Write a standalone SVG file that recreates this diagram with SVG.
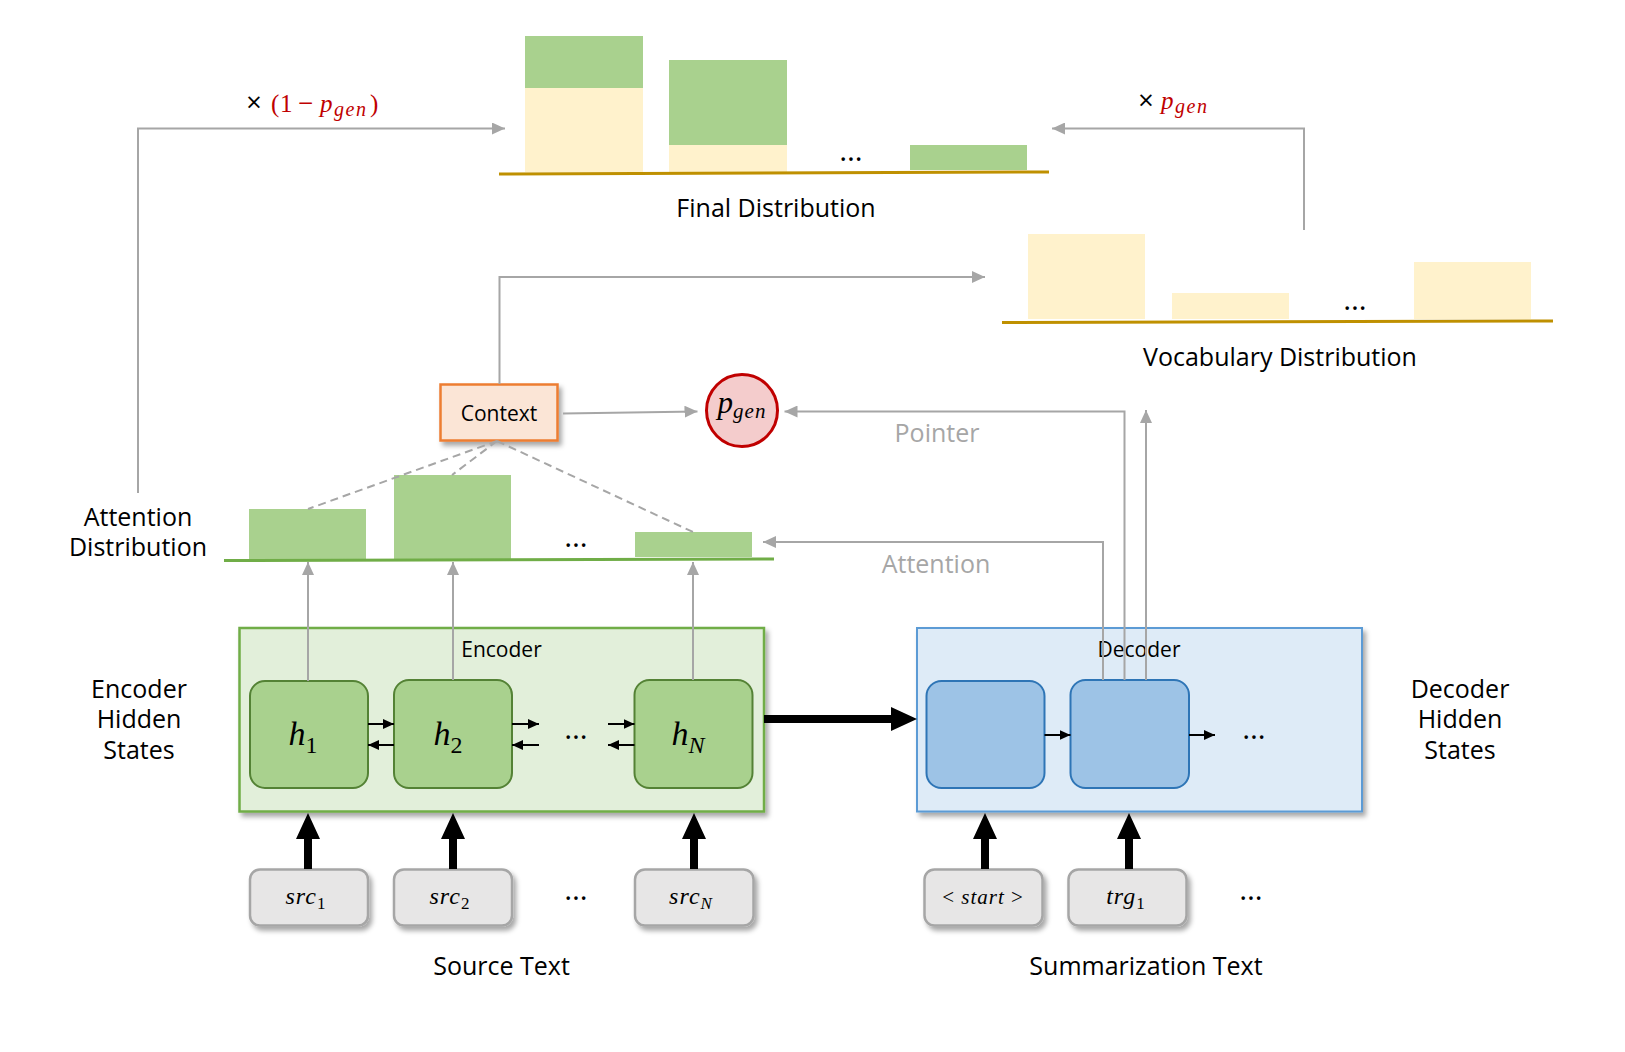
<svg xmlns="http://www.w3.org/2000/svg" width="1625" height="1052" viewBox="0 0 1625 1052">
<defs>
<style>
.lbl{font-family:"Open Sans","Noto Sans",sans-serif;font-size:25px;fill:#000;text-anchor:middle}
.sm{font-family:"Open Sans","Noto Sans",sans-serif;font-size:21px;fill:#000;text-anchor:middle}
.gl{font-family:"Open Sans","Noto Sans",sans-serif;font-size:25px;fill:#A6A6A6;text-anchor:middle}
.math{font-family:"Liberation Serif","DejaVu Serif",serif;font-style:italic;fill:#000;text-anchor:middle}
.red{font-family:"Liberation Serif","DejaVu Serif",serif;fill:#C00000}
.dots{font-family:"Open Sans","Noto Sans",sans-serif;font-size:30px;fill:#000;text-anchor:middle}
.g{fill:#A9D18E}
.y{fill:#FFF2CC}
.gc{stroke:#A6A6A6;stroke-width:2;fill:none}
.bk{stroke:#000;stroke-width:2;fill:none}
.cellg{fill:#A9D18E;stroke:#548235;stroke-width:2}
.cellb{fill:#9DC3E6;stroke:#2E75B6;stroke-width:2}
.inp{fill:#E7E6E6;stroke:#A6A6A6;stroke-width:2.5}
</style>
<filter id="sh" x="-20%" y="-20%" width="150%" height="160%">
<feDropShadow dx="3" dy="4" stdDeviation="2.5" flood-color="#000" flood-opacity="0.35"/>
</filter>
<marker id="ag" markerUnits="userSpaceOnUse" markerWidth="13" markerHeight="12" viewBox="0 0 13 12" refX="13" refY="6" orient="auto">
<path d="M0,0 L13,6 L0,12 z" fill="#A6A6A6"/>
</marker>
<marker id="ab" markerUnits="userSpaceOnUse" markerWidth="11" markerHeight="10" viewBox="0 0 11 10" refX="11" refY="5" orient="auto">
<path d="M0,0 L11,5 L0,10 z" fill="#000"/>
</marker>
</defs>
<rect width="1625" height="1052" fill="#fff"/>

<!-- Final distribution -->
<g id="final-distribution">
<rect class="y" x="525" y="88" width="118" height="84"/>
<rect class="g" x="525" y="36" width="118" height="52"/>
<rect class="y" x="669" y="145" width="118" height="27"/>
<rect class="g" x="669" y="60" width="118" height="85"/>
<rect class="g" x="910" y="145" width="117" height="25"/>
<text class="dots" x="851" y="161">…</text>
<line x1="499" y1="174" x2="1049" y2="172" stroke="#BF9000" stroke-width="3"/>
<text class="lbl" x="776" y="217">Final Distribution</text>
</g>

<!-- Vocabulary distribution -->
<g id="vocab-distribution">
<rect class="y" x="1028" y="234" width="117" height="85"/>
<rect class="y" x="1172" y="293" width="117" height="26"/>
<rect class="y" x="1414" y="262" width="117" height="57"/>
<text class="dots" x="1355" y="310">…</text>
<line x1="1002" y1="322.5" x2="1553" y2="321" stroke="#BF9000" stroke-width="3"/>
<text class="lbl" x="1280" y="366">Vocabulary Distribution</text>
</g>

<!-- Attention distribution -->
<g id="attention-distribution">
<rect class="g" x="249" y="509" width="117" height="51"/>
<rect class="g" x="394" y="475" width="117" height="85"/>
<rect class="g" x="635" y="532" width="117" height="25"/>
<text class="dots" x="576" y="547">…</text>
<line x1="224" y1="560.5" x2="774" y2="559" stroke="#70AD47" stroke-width="3"/>
<text class="lbl" x="138" y="526">Attention</text>
<text class="lbl" x="138" y="556">Distribution</text>
</g>

<!-- Multiplier labels -->
<g id="mult-labels">
<text font-family="Open Sans,sans-serif" font-size="27" x="254" y="112" text-anchor="middle">×</text>
<text class="red" y="112" font-size="25"><tspan x="271">(</tspan><tspan x="280">1</tspan><tspan x="298" font-size="27">−</tspan><tspan x="320" font-style="italic">p</tspan><tspan x="334" font-style="italic" font-size="20" dy="4" letter-spacing="1.5">gen</tspan><tspan x="370" dy="-4">)</tspan></text>
<text font-family="Open Sans,sans-serif" font-size="27" x="1146" y="110" text-anchor="middle">×</text>
<text class="red" y="109" font-size="25"><tspan x="1161" font-style="italic">p</tspan><tspan x="1175" font-style="italic" font-size="20" dy="4" letter-spacing="1.5">gen</tspan></text>
</g>

<!-- Context -->
<g id="context">
<rect x="440.5" y="384.5" width="117" height="56" fill="#FBE5D6" stroke="#ED7D31" stroke-width="2.5" filter="url(#sh)"/>
<text class="sm" x="499" y="421" font-size="22">Context</text>
</g>

<!-- p_gen -->
<g id="pgen">
<ellipse cx="742" cy="410.5" rx="35.5" ry="36" fill="#F4CCCC" stroke="#C00000" stroke-width="3"/>
<text class="math" x="742" y="413" font-size="31">p<tspan font-size="21" dy="5" letter-spacing="1">gen</tspan></text>
</g>

<!-- Labels -->
<g id="side-labels">
<text class="lbl" x="139" y="698">Encoder</text>
<text class="lbl" x="139" y="728">Hidden</text>
<text class="lbl" x="139" y="759">States</text>
<text class="lbl" x="1460" y="698">Decoder</text>
<text class="lbl" x="1460" y="728">Hidden</text>
<text class="lbl" x="1460" y="759">States</text>
<text class="gl" x="937" y="442">Pointer</text>
<text class="gl" x="936" y="573">Attention</text>
<text class="lbl" x="501.5" y="975">Source Text</text>
<text class="lbl" x="1146" y="975">Summarization Text</text>
</g>

<!-- Encoder -->
<g id="encoder">
<rect x="239.5" y="628" width="524.5" height="183.5" fill="#E2EFDA" stroke="#70AD47" stroke-width="2.5" filter="url(#sh)"/>
<text class="sm" x="501.5" y="657">Encoder</text>
</g>
<g id="h1">
<rect class="cellg" x="250" y="681" width="118" height="107" rx="15"/>
<text class="math" x="303" y="745" font-size="34">h<tspan font-style="normal" font-size="24" dy="8">1</tspan></text>
</g>
<g id="h2">
<rect class="cellg" x="394" y="680" width="118" height="108" rx="15"/>
<text class="math" x="448" y="745" font-size="34">h<tspan font-style="normal" font-size="24" dy="8">2</tspan></text>
</g>
<g id="hN">
<rect class="cellg" x="634.5" y="680" width="118" height="108" rx="15"/>
<text class="math" x="688" y="745" font-size="34">h<tspan font-size="24" dy="8">N</tspan></text>
</g>
<text class="dots" x="576" y="739">…</text>

<!-- Decoder -->
<g id="decoder">
<rect x="917" y="628" width="445" height="183.5" fill="#DEEBF7" stroke="#5B9BD5" stroke-width="2" filter="url(#sh)"/>
<text class="sm" x="1139" y="657">Decoder</text>
</g>
<g id="d1"><rect class="cellb" x="926.5" y="681" width="118" height="107" rx="15"/></g>
<g id="d2"><rect class="cellb" x="1070.5" y="680" width="118.5" height="108" rx="15"/></g>
<text class="dots" x="1254" y="739">…</text>

<!-- Inputs -->
<g id="src1"><rect class="inp" x="250" y="869.5" width="118" height="56" rx="10" filter="url(#sh)"/>
<text class="math" x="306" y="904" font-size="24" letter-spacing="1">src<tspan font-style="normal" font-size="17" dy="5">1</tspan></text></g>
<g id="src2"><rect class="inp" x="394" y="869.5" width="118" height="56" rx="10" filter="url(#sh)"/>
<text class="math" x="450" y="904" font-size="24" letter-spacing="1">src<tspan font-style="normal" font-size="17" dy="5">2</tspan></text></g>
<g id="srcN"><rect class="inp" x="635" y="869.5" width="118.5" height="56" rx="10" filter="url(#sh)"/>
<text class="math" x="691" y="904" font-size="24" letter-spacing="1">src<tspan font-size="17" dy="5">N</tspan></text></g>
<text class="dots" x="576" y="900">…</text>
<g id="start"><rect class="inp" x="924.5" y="869.5" width="118" height="56" rx="10" filter="url(#sh)"/>
<text class="math" x="983" y="904" font-size="21" letter-spacing="1"><tspan font-style="normal">&lt;</tspan> start <tspan font-style="normal">&gt;</tspan></text></g>
<g id="trg1"><rect class="inp" x="1068.5" y="869.5" width="118" height="56" rx="10" filter="url(#sh)"/>
<text class="math" x="1126" y="904" font-size="24" letter-spacing="1">trg<tspan font-style="normal" font-size="17" dy="5">1</tspan></text></g>
<text class="dots" x="1251" y="900">…</text>

<!-- Connectors -->
<g id="connectors">
<polyline class="gc" points="138,493 138,128.5 505,128.5" marker-end="url(#ag)"/>
<polyline class="gc" points="1304,230 1304,128.5 1052,128.5" marker-end="url(#ag)"/>
<polyline class="gc" points="499.5,384 499.5,277 985,277" marker-end="url(#ag)"/>
<line class="gc" x1="563" y1="413.5" x2="697.5" y2="411.5" marker-end="url(#ag)"/>
<polyline class="gc" points="1124.5,680 1124.5,411.5 784.5,411.5" marker-end="url(#ag)"/>
<polyline class="gc" points="1103,680 1103,542 763,542" marker-end="url(#ag)"/>
<line class="gc" x1="1146" y1="680" x2="1146" y2="410" marker-end="url(#ag)"/>
<line class="gc" x1="308" y1="681" x2="308" y2="562" marker-end="url(#ag)"/>
<line class="gc" x1="453" y1="680" x2="453" y2="562" marker-end="url(#ag)"/>
<line class="gc" x1="693" y1="680" x2="693" y2="562" marker-end="url(#ag)"/>
<g stroke="#A6A6A6" stroke-width="2" stroke-dasharray="8,5" fill="none">
<line x1="497" y1="441" x2="308" y2="509"/>
<line x1="497" y1="441" x2="452" y2="475"/>
<line x1="497" y1="441" x2="693" y2="532"/>
</g>
<line class="bk" x1="368" y1="724" x2="394" y2="724" marker-end="url(#ab)"/>
<line class="bk" x1="394" y1="745" x2="368" y2="745" marker-end="url(#ab)"/>
<line class="bk" x1="512" y1="724" x2="539" y2="724" marker-end="url(#ab)"/>
<line class="bk" x1="539" y1="745" x2="512" y2="745" marker-end="url(#ab)"/>
<line class="bk" x1="608" y1="724" x2="634.5" y2="724" marker-end="url(#ab)"/>
<line class="bk" x1="634.5" y1="745" x2="608" y2="745" marker-end="url(#ab)"/>
<line class="bk" x1="1044.5" y1="735" x2="1070.5" y2="735" marker-end="url(#ab)"/>
<line class="bk" x1="1189" y1="735" x2="1215" y2="735" marker-end="url(#ab)"/>
<path d="M764,715 L891,715 L891,707 L917,719 L891,731 L891,723 L764,723 z" fill="#000"/>
<path d="M304,869 L304,839 L296,839 L308,813 L320,839 L312,839 L312,869 z" fill="#000"/>
<path d="M449,869 L449,839 L441,839 L453,813 L465,839 L457,839 L457,869 z" fill="#000"/>
<path d="M690,869 L690,839 L682,839 L694,813 L706,839 L698,839 L698,869 z" fill="#000"/>
<path d="M981,869 L981,839 L973,839 L985,813 L997,839 L989,839 L989,869 z" fill="#000"/>
<path d="M1125,869 L1125,839 L1117,839 L1129,813 L1141,839 L1133,839 L1133,869 z" fill="#000"/>
</g>
</svg>
